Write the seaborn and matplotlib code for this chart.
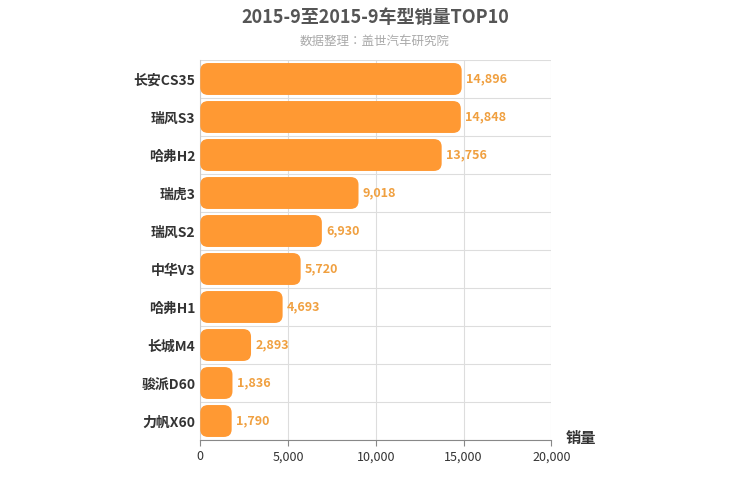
import matplotlib
matplotlib.use("Agg")
import matplotlib.pyplot as plt
from matplotlib import font_manager
import seaborn as sns
import pandas as pd
from matplotlib.patches import FancyBboxPatch

cjk = [f.name for f in font_manager.fontManager.ttflist if "CJK" in f.name]
pref = [n for n in cjk if "SC" in n] or cjk
plt.rcParams["font.family"] = "sans-serif"
plt.rcParams["font.sans-serif"] = pref[:1] + ["Noto Sans CJK SC", "DejaVu Sans"]

models = ["长安CS35", "瑞风S3", "哈弗H2", "瑞虎3", "瑞风S2", "中华V3", "哈弗H1", "长城M4", "骏派D60", "力帆X60"]
sales = [14896, 14848, 13756, 9018, 6930, 5720, 4693, 2893, 1836, 1790]
xticks = [0, 5000, 10000, 15000, 20000]

df = pd.DataFrame({"model": models, "sales": sales})

fig = plt.figure(figsize=(7.5, 5), dpi=100)
ax = fig.add_axes([0.267, 0.12, 0.468, 0.76])
sns.barplot(data=df, x="sales", y="model", color="#FF9933", saturation=1, width=0.84, ax=ax, zorder=3)

# swap plain bars for rounded ones
for p in list(ax.patches):
    x, y, w, h = p.get_x(), p.get_y(), p.get_width(), p.get_height()
    p.remove()
    ax.add_patch(FancyBboxPatch((x, y), w, h, boxstyle="round,pad=0,rounding_size=450",
                                mutation_aspect=0.2 / 450, fc="#FF9933", ec="none", zorder=3))

for i, v in enumerate(sales):
    ax.text(v + 250, i, f"{v:,}", va="center", ha="left", fontsize=9, color="#F0A040", fontweight="bold")

ax.set_xlim(0, 20000)
ax.set_ylim(9.5, -0.5)
ax.set_xticks(xticks)
ax.set_xticklabels([f"{t:,}" for t in xticks], fontsize=9, color="#333333")
ax.set_yticks(range(len(models)))
ax.set_yticklabels(models, fontsize=10, color="#333333", fontweight="bold")
ax.set_yticks([i + 0.5 for i in range(-1, 10)], minor=True)
ax.grid(True, axis="x", color="#dddddd", zorder=0)
ax.grid(True, axis="y", which="minor", color="#dddddd", zorder=0)
ax.tick_params(axis="y", which="both", length=0)
ax.tick_params(axis="x", length=4, color="#888888")
for s in ["top", "right"]:
    ax.spines[s].set_visible(False)
ax.spines["left"].set_color("#cccccc")
ax.spines["bottom"].set_color("#888888")
ax.set_xlabel("")
ax.set_ylabel("")

fig.text(0.5, 0.965, "2015-9至2015-9车型销量TOP10", ha="center", va="center", fontsize=13, fontweight="bold", color="#555555")
fig.text(0.5, 0.918, "数据整理：盖世汽车研究院", ha="center", va="center", fontsize=9, color="#aaaaaa")
fig.text(0.775, 0.123, "销量", ha="center", va="center", fontsize=11, fontweight="bold", color="#333333")

fig.savefig("out.png", dpi=100)
